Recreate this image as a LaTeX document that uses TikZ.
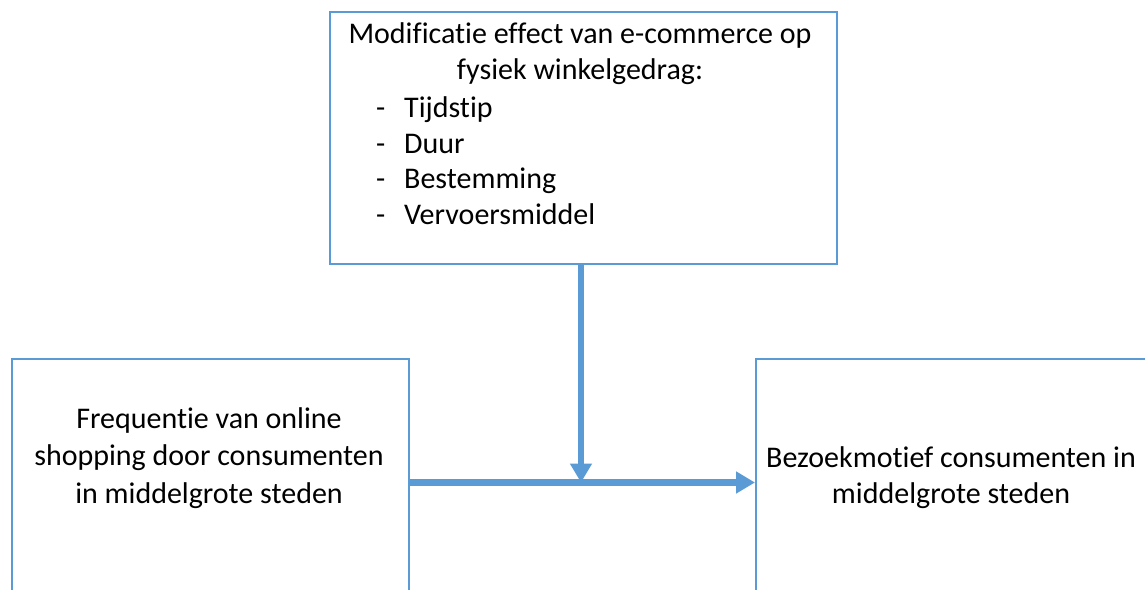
\documentclass[tikz,border=0pt]{standalone}
\usepackage{fontspec}
\setmainfont{Carlito}[Ligatures=NoCommon]
\usetikzlibrary{arrows.meta}
\definecolor{offblue}{HTML}{5B9BD5}
\tikzset{
  box/.style={draw=offblue, line width=1.8pt, fill=white, inner sep=0pt},
  conn/.style={draw=offblue, line width=6.5pt, -{Triangle[length=19pt,width=21pt]}},
  lbl/.style={inner sep=0pt, font=\fontsize{30}{35.5}\selectfont, align=center},
  lst/.style={inner sep=0pt, font=\fontsize{30}{35.5}\selectfont, align=left},
}
\begin{document}
\begin{tikzpicture}[x=1pt,y=-1pt]
\useasboundingbox (0,0) rectangle (1145,589);
\clip (0,0) rectangle (1145,589);
\fill[white] (0,0) rectangle (1145,589);
% boxes
\node[box, minimum width=507pt, minimum height=252pt, anchor=north west] (top) at (329,11) {};
\node[box, minimum width=397pt, minimum height=260pt, anchor=north west] (left) at (11,358) {};
\node[box, minimum width=420pt, minimum height=260pt, anchor=north west] (right) at (755,358) {};
% texts
\node[lbl, anchor=base] (toptxt) at (580,79) {Modificatie effect van e-commerce op\\fysiek winkelgedrag:};
\node[lst, anchor=base west] (toplist) at (376,224) {\makebox[28pt][l]{-}Tijdstip\\\makebox[28pt][l]{-}Duur\\\makebox[28pt][l]{-}Bestemming\\\makebox[28pt][l]{-}Vervoersmiddel};
\node[lbl, anchor=base, font=\fontsize{30}{37.5}\selectfont] (lefttxt) at (209,503) {Frequentie van online\\shopping door consumenten\\in middelgrote steden};
\node[lbl, anchor=base, font=\fontsize{30}{36}\selectfont] (righttxt) at (951,503) {Bezoekmotief consumenten in\\middelgrote steden};
% connectors
\coordinate (j) at (581,482.5);
\draw[conn] (j -| left.east) -- (j -| right.west);
\draw[conn] (top.south -| j) -- (j);
\end{tikzpicture}
\end{document}
